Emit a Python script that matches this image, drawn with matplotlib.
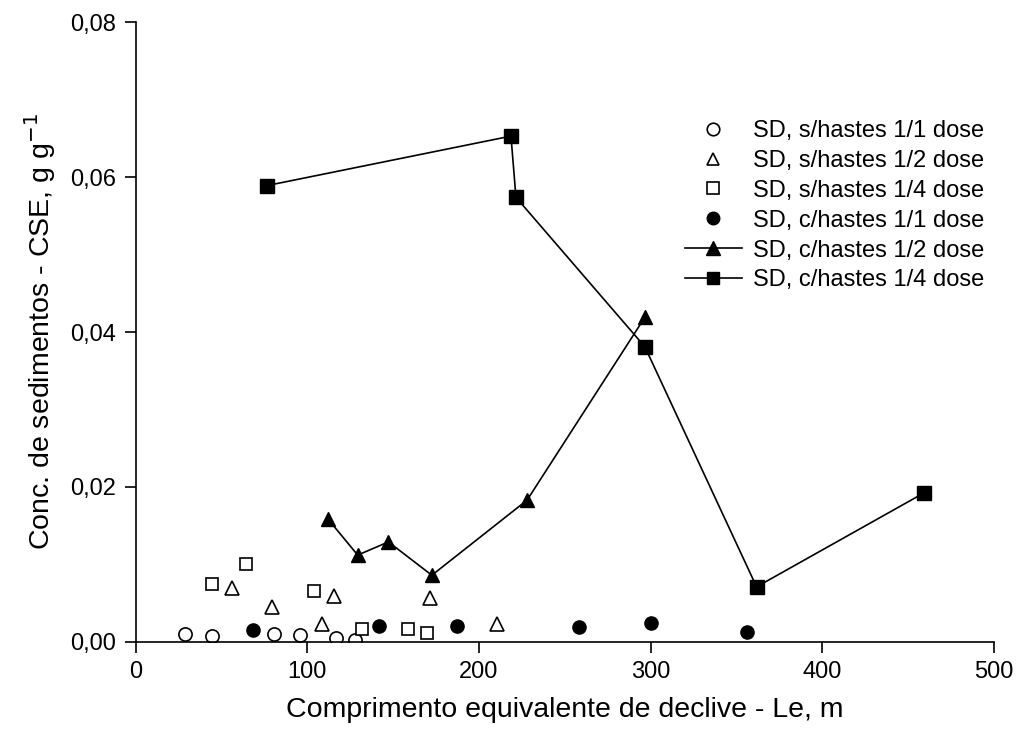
import numpy as np
from matplotlib import pyplot as plt
from matplotlib.ticker import FuncFormatter

plt.rcParams['font.family'] = ['Liberation Sans', 'DejaVu Sans']

# SD, s/hastes 1/1 dose
x_s11 = [28.8, 44.3, 80.5, 95.7, 116.7, 127.8]
y_s11 = [0.00095, 0.00074, 0.00103, 0.00086, 0.00044, 0.00022]
# SD, s/hastes 1/2 dose
x_s12 = [56.2, 79.2, 108.3, 115.5, 171.5, 210.4]
y_s12 = [0.0069, 0.0045, 0.00225, 0.0059, 0.0057, 0.00225]
# SD, s/hastes 1/4 dose
x_s14 = [44.2, 64.2, 104.0, 132.0, 158.5, 169.6]
y_s14 = [0.0075, 0.0100, 0.0065, 0.0017, 0.0017, 0.0011]
# SD, c/hastes 1/1 dose
x_c11 = [68.5, 141.8, 187.1, 258.0, 300.3, 356.3]
y_c11 = [0.0015, 0.0020, 0.0020, 0.00186, 0.0024, 0.00122]
# SD, c/hastes 1/2 dose
x_c12 = [111.8, 129.3, 147.2, 172.5, 228.0, 296.6]
y_c12 = [0.0159, 0.0112, 0.0129, 0.0086, 0.0183, 0.0419]
# SD, c/hastes 1/4 dose
x_c14 = [76.2, 218.6, 221.5, 296.6, 361.7, 459.0]
y_c14 = [0.0589, 0.0653, 0.0574, 0.0381, 0.0071, 0.0192]

labels = ['SD, s/hastes 1/1 dose', 'SD, s/hastes 1/2 dose', 'SD, s/hastes 1/4 dose',
          'SD, c/hastes 1/1 dose', 'SD, c/hastes 1/2 dose', 'SD, c/hastes 1/4 dose']

fig = plt.figure(figsize=(10.21, 7.42), dpi=100)
ax = fig.add_axes([0.133, 0.135, 0.8405, 0.835])

ms = 9.5
ax.plot(x_s11, y_s11, 'o', ms=ms, mfc='white', mec='black', mew=1.2, label=labels[0])
ax.plot(x_s12, y_s12, '^', ms=ms, mfc='white', mec='black', mew=1.2, label=labels[1])
ax.plot(x_s14, y_s14, 's', ms=ms - 0.5, mfc='white', mec='black', mew=1.2, label=labels[2])
ax.plot(x_c11, y_c11, 'o', ms=ms, mfc='black', mec='black', label=labels[3])
ax.plot(x_c12, y_c12, '^-', ms=ms + 0.5, color='black', lw=1.2, label=labels[4])
ax.plot(x_c14, y_c14, 's-', ms=ms, color='black', lw=1.2, label=labels[5])

ax.set_xlim(0, 500)
ax.set_ylim(0, 0.08)
ax.set_xticks([0, 100, 200, 300, 400, 500])
ax.set_yticks([0, 0.02, 0.04, 0.06, 0.08])
ax.yaxis.set_major_formatter(FuncFormatter(lambda v, p: '{:.2f}'.format(v).replace('.', ',')))
ax.spines['top'].set_visible(False)
ax.spines['right'].set_visible(False)
ax.spines['left'].set_linewidth(1.2)
ax.spines['bottom'].set_linewidth(1.2)
ax.tick_params(direction='out', length=8, width=1.2, labelsize=17, pad=6)

ax.set_xlabel('Comprimento equivalente de declive - Le, m', fontsize=20.5, labelpad=10)
ax.set_ylabel('Conc. de sedimentos - CSE, g g$^{-1}$', fontsize=20.5, labelpad=9)

ax.legend(loc='upper left', bbox_to_anchor=(0.65, 0.867), bbox_transform=fig.transFigure,
          frameon=False, fontsize=17, handlelength=2.4, markerscale=0.95,
          labelspacing=0.335, handletextpad=0.5)

fig.savefig('out.png', dpi=100)
